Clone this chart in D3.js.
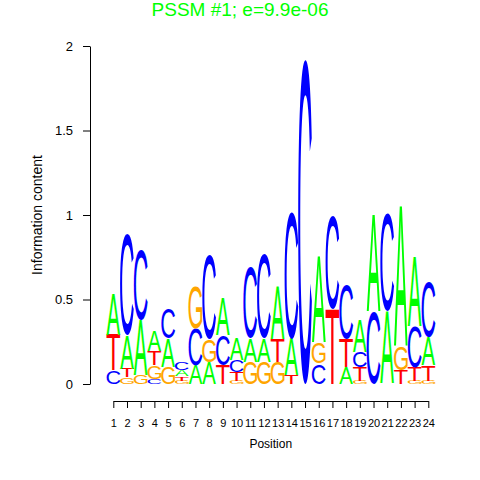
<!DOCTYPE html>
<html>
<head>
<meta charset="utf-8">
<script src="https://cdn.jsdelivr.net/npm/d3@7"></script>
<style>
body { margin: 0; background: #fff; }
svg { display: block; }
text { font-family: "Liberation Sans", Arial, Helvetica, sans-serif; }
</style>
</head>
<body>
<svg id="canvas" width="480" height="480"></svg>
<script>

// motif data: information content per letter at each position
const positions = d3.range(1, 25);
const bases = ['A', 'C', 'G', 'T'];
const baseColors = {A: '#00ff00', C: '#0000ff', G: '#ffa500', T: '#ff0000'};

const heightA = [0.24, 0.20, 0.33, 0.12, 0.17, 0.040, 0.11, 0.13, 0.22, 0.13, 0.14, 0.14,
                 0.31, 0.22, 0.00, 0.51, 0.00, 0.10, 0.19, 0.57, 0.43, 0.83, 0.41, 0.17];
const heightC = [0.08, 0.60, 0.41, 0.03, 0.18, 0.045, 0.22, 0.50, 0.18, 0.07, 0.42, 0.50,
                 0.00, 0.75, 1.92, 0.12, 0.55, 0.32, 0.09, 0.43, 0.58, 0.00, 0.24, 0.33];
const heightG = [0.00, 0.04, 0.05, 0.08, 0.10, 0.020, 0.25, 0.135, 0.00, 0.02, 0.13, 0.13,
                 0.13, 0.00, 0.00, 0.125, 0.00, 0.00, 0.02, 0.00, 0.00, 0.14, 0.02, 0.02];
const heightT = [0.21, 0.05, 0.00, 0.085, 0.00, 0.025, 0.00, 0.00, 0.11, 0.05, 0.00, 0.00,
                 0.135, 0.05, 0.00, 0.00, 0.44, 0.17, 0.08, 0.00, 0.00, 0.08, 0.08, 0.09];

const yTicks = [0, 0.5, 1, 1.5, 2];
const yTickLabels = ['0', '0.5', '1', '1.5', '2'];

const titleText = 'PSSM #1; e=9.9e-06';

let svg = d3.select('#canvas');

let x = d3.scaleLinear().domain([1, 24]).range([113.3, 428.3]);
let y = d3.scaleLinear().domain([0, 2]).range([384, 46]);
const colWidth = x(2) - x(1);

// build stacks, smallest letter at the bottom
let heightsByBase = {A: heightA, C: heightC, G: heightG, T: heightT};
let stacks = [];
positions.forEach((p, i) => {
    let letters = bases.map(b => ({base: b, h: heightsByBase[b][i]}))
        .filter(d => d.h > 0)
        .sort((a, b) => a.h - b.h);
    let acc = 0;
    for (let l of letters) {
        stacks.push({pos: p, base: l.base, y0: acc, y1: acc + l.h});
        acc += l.h;
    }
});

// tight glyph boxes so each letter can be stretched to fill its cell
const glyphSize = 200;
const glyphFont = glyphSize + 'px "Liberation Sans"';
let ctx = document.createElement('canvas').getContext('2d');
ctx.font = glyphFont;
let metrics = {};
for (let b of bases) {
    let m = ctx.measureText(b);
    metrics[b] = {
        l: m.actualBoundingBoxLeft,
        w: m.actualBoundingBoxLeft + m.actualBoundingBoxRight,
        a: m.actualBoundingBoxAscent,
        d: m.actualBoundingBoxDescent
    };
}

svg.append('g')
    .selectAll('text')
    .data(stacks)
    .join('text')
    .attr('font-size', glyphSize)
    .attr('fill', d => baseColors[d.base])
    .attr('x', d => metrics[d.base].l)
    .attr('y', d => -metrics[d.base].d)
    .attr('transform', d => {
        let m = metrics[d.base];
        let sx = colWidth / m.w;
        let sy = (y(d.y0) - y(d.y1)) / (m.a + m.d);
        return 'translate(' + (x(d.pos) - colWidth / 2) + ',' + y(d.y0) + ') scale(' + sx + ',' + sy + ')';
    })
    .text(d => d.base);

// y axis
let yAxis = svg.append('g')
    .attr('transform', 'translate(90,0)')
    .call(d3.axisLeft(y)
        .tickValues(yTicks)
        .tickFormat((d, i) => yTickLabels[i])
        .tickSize(7)
        .tickSizeOuter(0)
        .tickPadding(10));
yAxis.selectAll('text').attr('font-size', 13).attr('fill', '#000')
    .style('font-family', '"Liberation Sans", Arial, sans-serif');
yAxis.selectAll('line, path').attr('stroke', '#000');

// x axis
let xAxis = svg.append('g')
    .attr('transform', 'translate(0,401)')
    .call(d3.axisBottom(x)
        .tickValues(positions)
        .tickFormat(d => d)
        .tickSize(7)
        .tickSizeOuter(0)
        .tickPadding(11));
xAxis.selectAll('text').attr('font-size', 11).attr('fill', '#000')
    .style('font-family', '"Liberation Sans", Arial, sans-serif');
xAxis.selectAll('line, path').attr('stroke', '#000');

// labels
svg.append('text')
    .attr('x', 270.8)
    .attr('y', 448)
    .attr('text-anchor', 'middle')
    .attr('font-size', 12)
    .text('Position');

svg.append('text')
    .attr('transform', 'translate(42,215) rotate(-90)')
    .attr('text-anchor', 'middle')
    .attr('font-size', 14)
    .text('Information content');

svg.append('text')
    .attr('x', 240)
    .attr('y', 16)
    .attr('text-anchor', 'middle')
    .attr('font-size', 19)
    .attr('fill', '#00ff00')
    .text(titleText);

</script>
</body>
</html>
